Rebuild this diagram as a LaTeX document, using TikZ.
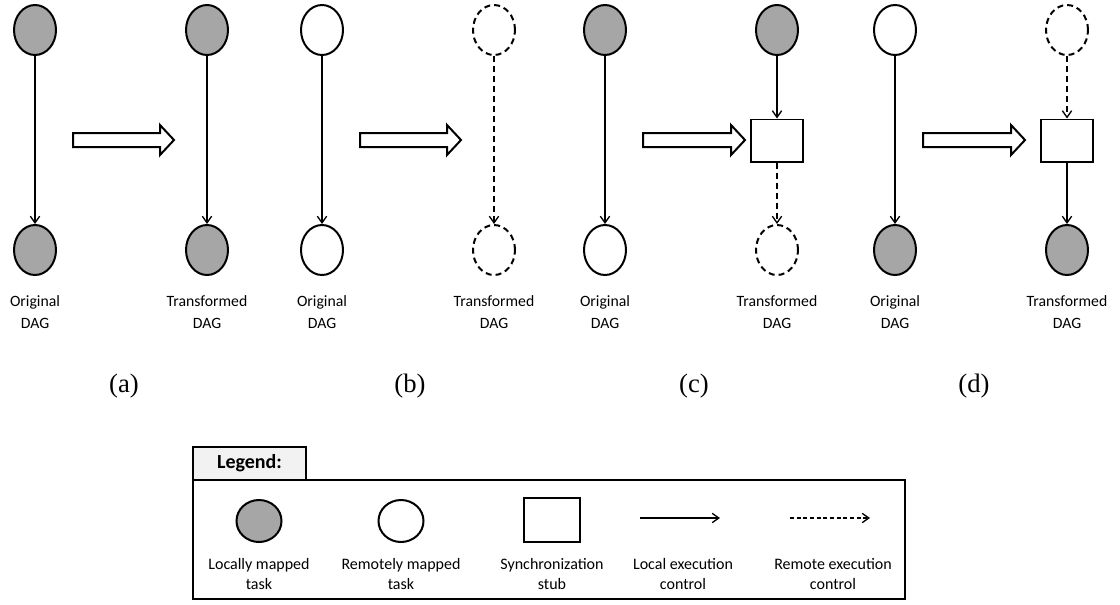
\documentclass[tikz,border=0pt]{standalone}
\usepackage{fontspec}
\setmainfont{Carlito}
\newfontfamily\panelfont{Liberation Serif}
\usetikzlibrary{shapes.geometric,arrows.meta}
\definecolor{taskgray}{HTML}{A6A6A6}
\definecolor{tabgray}{HTML}{F2F2F2}
\begin{document}
\begin{tikzpicture}[x=0.75pt,y=-0.75pt,
  every node/.style={inner sep=0pt},
  task/.style={ellipse,draw,line width=1.5pt,minimum width=31.5pt,minimum height=37.5pt},
  local/.style={task,fill=taskgray},
  remote/.style={task,fill=white},
  ghost/.style={task,fill=white,dash pattern=on 4.5pt off 3pt},
  stub/.style={rectangle,draw,line width=1pt,minimum width=39pt,minimum height=32pt,fill=white},
  ctrl/.style={line width=1pt,-{Straight Barb[length=5pt,width=7pt,line width=1pt]}},
  rctrl/.style={ctrl,dash pattern=on 4.5pt off 3pt},
  dagname/.style={font=\fontsize{11.8}{16.5}\selectfont,align=center},
  panel/.style={font=\panelfont\fontsize{20}{24}\selectfont},
  legtext/.style={font=\fontsize{12}{15}\selectfont,align=center},
  fat/.style={draw,line width=1.5pt,fill=white,line join=miter}
]
\useasboundingbox (0,0) rectangle (1120,604);

% block arrow between the two DAGs of a panel
\newcommand\transformarrow[2]{%
  \draw[fat] (#1,133) -- (#2-14,133) -- (#2-14,125) -- (#2,140)
    -- (#2-14,155) -- (#2-14,147) -- (#1,147) -- cycle;}

% ---------- (a) local -> local ----------
\node[local] (a1t) at (35,30) {};
\node[local] (a1b) at (35,250) {};
\draw[ctrl] (a1t) -- (a1b);
\node[dagname] (a1l) at (35,312) {Original\\DAG};
\transformarrow{73}{174}
\node[local] (a2t) at (207,30) {};
\node[local] (a2b) at (207,250) {};
\draw[ctrl] (a2t) -- (a2b);
\node[dagname] (a2l) at (207,312) {Transformed\\DAG};
\node[panel] (pa) at (124,386) {(a)};

% ---------- (b) remote -> remote ----------
\node[remote] (b1t) at (322,30) {};
\node[remote] (b1b) at (322,250) {};
\draw[ctrl] (b1t) -- (b1b);
\node[dagname] (b1l) at (322,312) {Original\\DAG};
\transformarrow{360}{461}
\node[ghost] (b2t) at (494,30) {};
\node[ghost] (b2b) at (494,250) {};
\draw[rctrl] (b2t) -- (b2b);
\node[dagname] (b2l) at (494,312) {Transformed\\DAG};
\node[panel] (pb) at (410,386) {(b)};

% ---------- (c) local -> remote ----------
\node[local] (c1t) at (605,30) {};
\node[remote] (c1b) at (605,250) {};
\draw[ctrl] (c1t) -- (c1b);
\node[dagname] (c1l) at (605,312) {Original\\DAG};
\transformarrow{643}{745}
\node[local] (c2t) at (777,30) {};
\node[stub] (c2s) at (777,140.5) {};
\node[ghost] (c2b) at (777,250) {};
\draw[ctrl] (c2t) -- (c2s);
\draw[rctrl] (c2s) -- (c2b);
\node[dagname] (c2l) at (777,312) {Transformed\\DAG};
\node[panel] (pc) at (694,386) {(c)};

% ---------- (d) remote -> local ----------
\node[remote] (d1t) at (895,30) {};
\node[local] (d1b) at (895,250) {};
\draw[ctrl] (d1t) -- (d1b);
\node[dagname] (d1l) at (895,312) {Original\\DAG};
\transformarrow{923}{1025}
\node[ghost] (d2t) at (1067,30) {};
\node[stub] (d2s) at (1067,140.5) {};
\node[local] (d2b) at (1067,250) {};
\draw[rctrl] (d2t) -- (d2s);
\draw[ctrl] (d2s) -- (d2b);
\node[dagname] (d2l) at (1067,312) {Transformed\\DAG};
\node[panel] (pd) at (974,386) {(d)};

% ---------- legend ----------
\draw[line width=1.1pt,fill=tabgray] (193,447) rectangle (306,480);
\node[font=\bfseries\fontsize{15}{18}\selectfont] (legtitle) at (249.5,463.5) {Legend:};
\draw[line width=1.1pt] (193,480) rectangle (905,599);

\node[task,fill=taskgray,minimum width=33.75pt,minimum height=31.5pt] (lg1) at (259,521) {};
\node[legtext] (lg1t) at (259,574) {Locally mapped\\task};
\node[task,fill=white,minimum width=33.75pt,minimum height=31.5pt] (lg2) at (401,521) {};
\node[legtext] (lg2t) at (401,574) {Remotely mapped\\task};
\node[stub,minimum width=42pt,minimum height=33pt] (lg3) at (552,520) {};
\node[legtext] (lg3t) at (552,574) {Synchronization\\stub};
\coordinate (lg4a) at (640,518);
\coordinate (lg4b) at (720,518);
\draw[ctrl] (lg4a) -- (lg4b);
\node[legtext] (lg4t) at (683,574) {Local execution\\control};
\coordinate (lg5a) at (790,518);
\coordinate (lg5b) at (870,518);
\draw[rctrl,dash pattern=on 3pt off 2pt] (lg5a) -- (lg5b);
\node[legtext] (lg5t) at (833,574) {Remote execution\\control};
\end{tikzpicture}
\end{document}
